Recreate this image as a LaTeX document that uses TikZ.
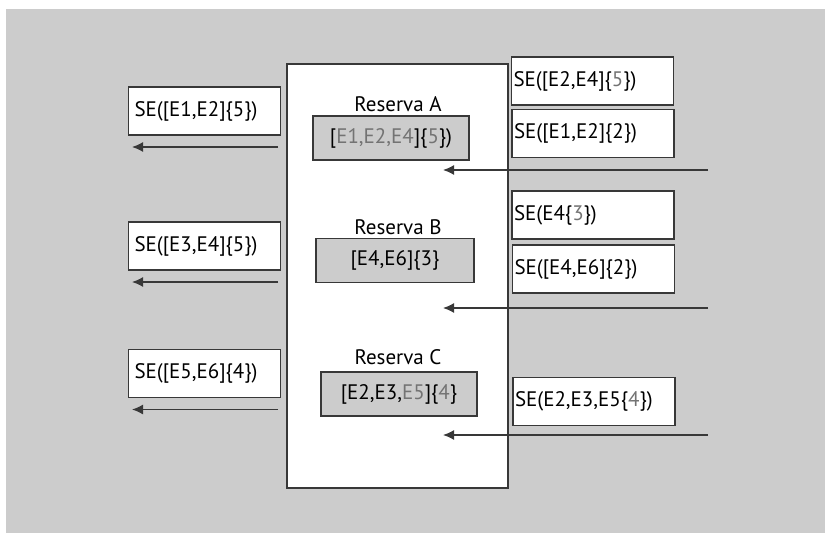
\documentclass[tikz,border=0pt]{standalone}
\usepackage{fontspec}
\setmainfont{PT Sans}
\usetikzlibrary{arrows.meta}
\definecolor{hintergrund}{gray}{0.8}
\definecolor{rahmen}{gray}{0.22}
\definecolor{grauschrift}{gray}{0.45}
\newcommand{\gr}[1]{\textcolor{grauschrift}{#1}}

\begin{document}
\begin{tikzpicture}[x=1pt,y=-1pt,
    sekasten/.style={draw=rahmen, line width=1.3pt, fill=white, inner ysep=0pt,
        minimum height=48pt, align=left, font=\fontsize{21}{24}\selectfont},
    reservekasten/.style={draw=rahmen, line width=1.3pt, fill=hintergrund,
        minimum height=44pt, font=\fontsize{21}{24}\selectfont},
    pfeil/.style={draw=rahmen, line width=1.4pt, -{Latex[length=11pt,width=10pt]}}]

    % Hintergrund und Rahmen des Bildes
    \useasboundingbox (0,0) rectangle (825,533);
    \fill[hintergrund] (6,9) rectangle (825,533);

    % grosser weisser Kasten in der Mitte
    \node[draw=rahmen, line width=1.6pt, fill=white, minimum width=221pt,
        minimum height=424pt] (mitte) at (397.5,276) {};

    % Kasten links mit Pfeilen nach links
    \foreach \i/\y/\t in {1/111/{SE([E1,E2]\{5\})}, 2/246/{SE([E3,E4]\{5\})},
                          3/373.5/{SE([E5,E6]\{4\})}} {
        \node[sekasten, inner xsep=6pt, text width=140pt] (l\i) at (204.5,\y) {\t};
        \coordinate (la\i) at (278,\y+36);
        \coordinate (lb\i) at (132,\y+36);
        \draw[pfeil] (la\i) -- (lb\i);
    }

    % Reserven in der Mitte
    \node[font=\fontsize{21}{24}\selectfont] (ra) at (398,104) {Reserva A};
    \node[reservekasten, minimum width=156pt] (ka) at (391,138)
        {[\gr{E1,E2,E4}]\{\gr{5}\})};
    \node[font=\fontsize{21}{24}\selectfont] (rb) at (398,227) {Reserva B};
    \node[reservekasten, minimum width=158pt] (kb) at (395,260.5)
        {[E4,E6]\{3\}};
    \node[font=\fontsize{21}{24}\selectfont] (rc) at (398,357) {Reserva C};
    \node[reservekasten, minimum width=156pt] (kc) at (399,394)
        {[E2,E3,\gr{E5}]\{\gr{4}\}};

    % Kasten rechts
    \node[sekasten, inner xsep=2pt, text width=158pt] (r1) at (592.5,81)
        {SE([E2,E4]\{\gr{5}\})};
    \node[sekasten, inner xsep=2pt, text width=158pt] (r2) at (593,133.5)
        {SE([E1,E2]\{2\})};
    \node[sekasten, inner xsep=2pt, text width=158pt] (r3) at (593,215)
        {SE(E4\{\gr{3}\})};
    \node[sekasten, inner xsep=2pt, text width=158pt] (r4) at (593.5,269)
        {SE([E4,E6]\{2\})};
    \node[sekasten, inner xsep=2pt, text width=158pt] (r5) at (594,401.5)
        {SE(E2,E3,E5\{\gr{4}\})};

    % Pfeile von rechts in den Kasten
    \foreach \j/\y in {1/170, 2/308, 3/435} {
        \coordinate (ea\j) at (708,\y);
        \coordinate (eb\j) at (443,\y);
        \draw[pfeil] (ea\j) -- (eb\j);
    }
\end{tikzpicture}
\end{document}
